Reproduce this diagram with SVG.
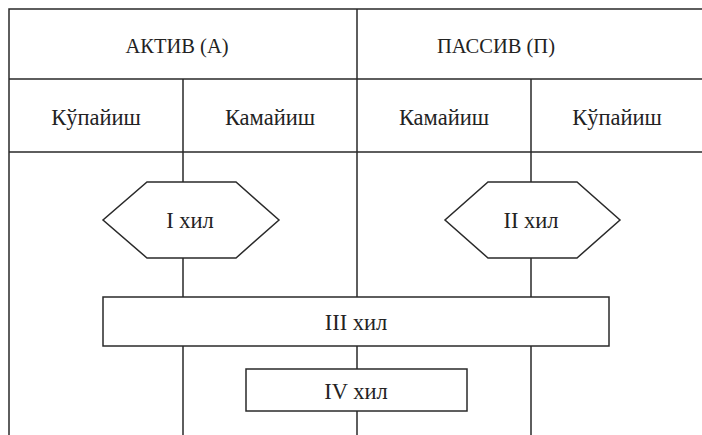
<svg xmlns="http://www.w3.org/2000/svg" width="702" height="435" viewBox="0 0 702 435">
<style>
.ln{stroke:#2a2a2a;stroke-width:1.5;fill:none}
.box{stroke:#2a2a2a;stroke-width:1.5;fill:#fff}
text{font-family:'Liberation Serif','Times New Roman',serif;fill:#222;text-anchor:middle}
.h{font-size:20.5px}
.c{font-size:22.5px}
.n{font-size:22.5px}
</style>
<rect width="702" height="435" fill="#fff"/>
<g id="table">
<path class="ln" d="M9,435 V9 H702 M9,79 H702 M9,152 H702"/>
<text class="h" x="177" y="53">АКТИВ (А)</text>
<text class="h" x="496" y="53">ПАССИВ (П)</text>
<text class="c" x="96" y="125">Кўпайиш</text>
<text class="c" x="270" y="125">Камайиш</text>
<text class="c" x="444" y="125">Камайиш</text>
<text class="c" x="617" y="125">Кўпайиш</text>
</g>
<g id="connectors">
<path class="ln" d="M183,79 V182 M183,258 V297 M183,346 V435"/>
<path class="ln" d="M357,9 V297 M357,346 V369 M357,411 V435"/>
<path class="ln" d="M531,79 V182 M531,258 V297 M531,346 V435"/>
</g>
<g id="n1">
<polygon class="box" points="147,182 236,182 279,220 236,258 147,258 103,220"/>
<text class="n" x="190" y="228">I хил</text>
</g>
<g id="n2">
<polygon class="box" points="488,182 577,182 620,220 577,258 488,258 445,220"/>
<text class="n" x="531" y="228">II хил</text>
</g>
<g id="n3">
<rect class="box" x="103" y="297" width="506" height="49"/>
<text class="n" x="356" y="330">III хил</text>
</g>
<g id="n4">
<rect class="box" x="246" y="369" width="221" height="42"/>
<text class="n" x="356" y="399">IV хил</text>
</g>
</svg>
